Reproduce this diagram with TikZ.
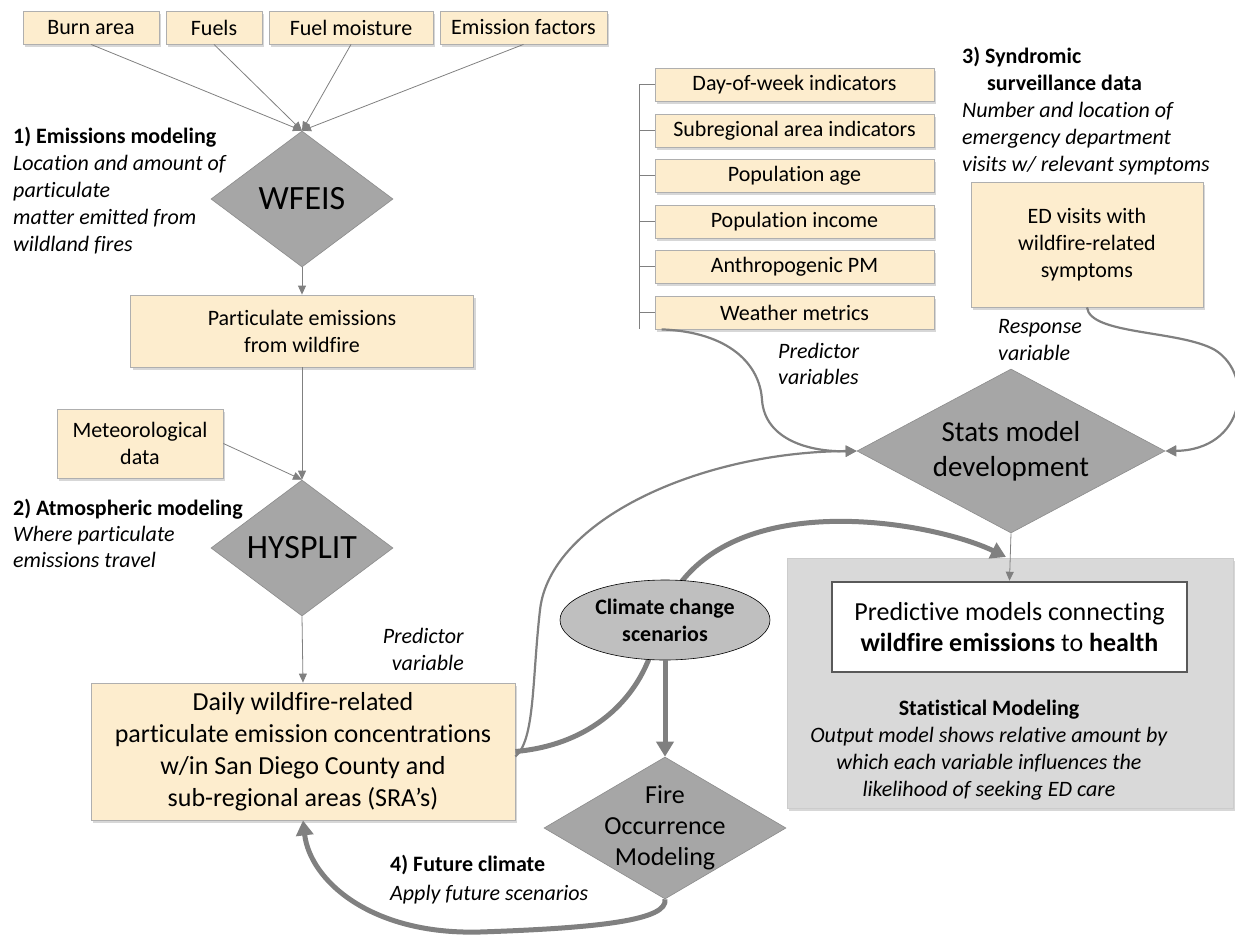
\documentclass[tikz,border=0pt]{standalone}
\usepackage{fontspec}
\setmainfont{Carlito}[Ligatures=NoCommon]
\usetikzlibrary{arrows.meta,shapes.geometric,shadows}
\definecolor{boxfill}{RGB}{253,237,206}
\definecolor{boxline}{RGB}{175,175,175}
\definecolor{diafill}{RGB}{166,166,166}
\definecolor{dialine}{RGB}{140,140,140}
\definecolor{conn}{RGB}{128,128,128}
\definecolor{panelfill}{RGB}{217,217,217}
\definecolor{ellfill}{RGB}{191,191,191}
\newcommand{\fsz}[2]{\fontsize{#1}{#2}\selectfont}
\begin{document}
\begin{tikzpicture}[x=1pt,y=-1pt,
  box/.style={draw=boxline, fill=boxfill, line width=0.8pt, inner sep=0pt, align=center,
    font=\fsz{22}{27}, drop shadow={shadow xshift=2pt,shadow yshift=-3pt,opacity=0.35,fill=black!45}},
  dia/.style={diamond, draw=dialine, fill=diafill, line width=0.6pt, inner sep=0pt, aspect=1.34},
  note/.style={inner sep=0pt, align=left, font=\fsz{22}{27}},
  thin/.style={draw=conn, line width=0.8pt, -{Triangle[length=9pt,width=8pt]}},
  mid/.style={draw=conn, line width=2.2pt, -{Triangle[length=11pt,width=11pt]}},
  thick/.style={draw=conn, line width=5pt, -{Triangle[length=15pt,width=17pt]}},
  plain/.style={draw=conn, line width=0.8pt}
]
\useasboundingbox (0,0) rectangle (1235,937);

% ---- top input boxes
\node[box, minimum width=136pt, minimum height=33pt] (burn) at (91,27.5) {Burn area};
\node[box, minimum width=96pt, minimum height=33pt] (fuels) at (214,27.5) {Fuels};
\node[box, minimum width=164pt, minimum height=33pt] (moist) at (351,27.5) {Fuel moisture};
\node[box, minimum width=167pt, minimum height=33pt] (ef) at (523.5,27.5) {Emission factors};

% ---- left column
\node[dia, minimum width=182pt, minimum height=136pt] (wfeis) at (302,199) {};
\node[inner sep=0pt, font=\fsz{34}{40}] (wfeist) at (wfeis.center) {WFEIS};
\node[box, minimum width=343pt, minimum height=72pt] (part) at (302,331) {Particulate emissions\\from wildfire};
\node[box, minimum width=166pt, minimum height=69pt] (meteo) at (140,443.5) {Meteorological\\data};
\node[dia, minimum width=182pt, minimum height=136pt] (hys) at (302,548) {};
\node[inner sep=0pt, font=\fsz{34}{40}] (hyst) at (hys.center) {HYSPLIT};
\node[box, minimum width=424pt, minimum height=137pt, font=\fsz{26}{32}] (daily) at (303,751.5)
  {Daily wildfire-related\\particulate emission concentrations\\w/in San Diego County and\\sub-regional areas (SRA’s)};

% ---- annotations left
\node[note, anchor=north west] (emn) at (13,126.5)
  {\textbf{1) Emissions modeling}\\\textit{Location and amount of}\\\textit{particulate}\\\textit{matter emitted from}\\\textit{wildland fires}};
\node[note, anchor=north west, font=\fsz{22}{26}] (atmn) at (13,498.5)
  {\textbf{2) Atmospheric modeling}\\\textit{Where particulate}\\\textit{emissions travel}};
\node[note, anchor=north east, align=right] (pvn) at (464,628.5) {\textit{Predictor}\\\textit{variable}};

% ---- predictor boxes
\node[box, minimum width=279pt, minimum height=33pt] (dow) at (794.5,84.5) {Day-of-week indicators};
\node[box, minimum width=279pt, minimum height=33pt] (sub) at (794.5,130.5) {Subregional area indicators};
\node[box, minimum width=279pt, minimum height=33pt] (age) at (794.5,175.5) {Population age};
\node[box, minimum width=279pt, minimum height=33pt] (inc) at (794.5,221.5) {Population income};
\node[box, minimum width=279pt, minimum height=33pt] (apm) at (794.5,266.5) {Anthropogenic PM};
\node[box, minimum width=279pt, minimum height=33pt] (wx) at (794.5,312.5) {Weather metrics};
\coordinate (brtop) at (639,84.5);
\coordinate (brbot) at (639,329);
\draw[plain] (brtop) -- (brbot);
\foreach \n in {dow,sub,age,inc,apm,wx} \draw[plain] (\n.west) -- (\n.west -| brtop);
\node[note, anchor=north west, font=\fsz{22}{26}] (pvsn) at (778,343.5) {\textit{Predictor}\\\textit{variables}};

% ---- syndromic
\node[note, anchor=north west] (synn) at (962,46.5)
  {\textbf{3) Syndromic}\\\hspace*{25pt}\textbf{surveillance data}\\\textit{Number and location of}\\\textit{emergency department}\\\textit{visits w/ relevant symptoms}};
\node[box, minimum width=232pt, minimum height=125pt] (ed) at (1087,244.5) {ED visits with\\wildfire-related\\symptoms};
\node[note, anchor=north west] (respn) at (998,319.5) {\textit{Response}\\\textit{variable}};

% ---- stats model
\node[dia, aspect=1.88, minimum width=308pt, minimum height=164pt] (stats) at (1011,451) {};
\node[inner sep=0pt, align=center, font=\fsz{29}{35}] (statst) at (stats.center) {Stats model\\development};

% ---- statistical modeling panel
\node[draw=black!20, fill=panelfill, minimum width=446pt, minimum height=250pt, inner sep=0pt,
  drop shadow={shadow xshift=2pt,shadow yshift=-3pt,opacity=0.35,fill=black!45}] (panel) at (1010,683) {};
\node[draw=black!65, fill=white, line width=2.5pt, minimum width=355pt, minimum height=90pt, inner sep=0pt,
  align=center, font=\fsz{26}{31}] (pred) at (1009.5,627)
  {Predictive models connecting\\\textbf{wildfire emissions} to \textbf{health}};
\node[inner sep=0pt, anchor=north, align=center, font=\fsz{22}{27}] (statn) at (989,699.5)
  {\textbf{Statistical Modeling}\\\textit{Output model shows relative amount by}\\\textit{which each variable influences the}\\\textit{likelihood of seeking ED care}};

% ---- fire occurrence
\node[dia, aspect=1.7, minimum width=242pt, minimum height=142pt] (fire) at (665,828) {};
\node[inner sep=0pt, align=center, font=\fsz{26}{31}] (firet) at (fire.center) {Fire\\Occurrence\\Modeling};
\node[note, anchor=north west, font=\fsz{22}{29}] (futn) at (390,854.5)
  {\textbf{4) Future climate}\\\textit{Apply future scenarios}};

% ---- connectors
\foreach \n in {burn,fuels,moist,ef} \draw[thin] (\n.south) -- (wfeis.north);
\draw[thin] (wfeis.south) -- (part.north);
\draw[thin] (part.south) -- (hys.north);
\draw[thin] (meteo.east) -- (hys.north);
\draw[thin] (hys.south) -- (daily.north);
\draw[thin] (stats.south) -- (pred.north);

\draw[mid] ([xshift=7pt]wx.south west) .. controls (730,332) and (760,365) .. (762,400)
  .. controls (765,440) and (810,452) .. (stats.west);
\draw[mid] (ed.south) .. controls (1090,335) and (1180,330) .. (1215,350)
  .. controls (1255,375) and (1245,450) .. (stats.east);
\draw[mid] ([yshift=-5pt]daily.east) .. controls (535,740) and (532,680) .. (540,610)
  .. controls (550,520) and (700,452) .. (stats.west);

\coordinate (thickend) at (1006,557);
\draw[thick] (daily.east) .. controls (590,745) and (640,700) .. (655,640)
  .. controls (690,476) and (930,520) .. (thickend);

\node[ellipse, draw=black, fill=ellfill, line width=0.6pt, minimum width=210pt, minimum height=80pt,
  inner sep=0pt, align=center, font=\fsz{22}{27}\bfseries] (clim) at (665,620) {Climate change\\scenarios};
\draw[thick] (clim.south) -- (fire.north);
\draw[thick] (fire.south) .. controls (668,920) and (600,928) .. (480,932)
  .. controls (370,935) and (310,880) .. (daily.south);
\end{tikzpicture}
\end{document}
